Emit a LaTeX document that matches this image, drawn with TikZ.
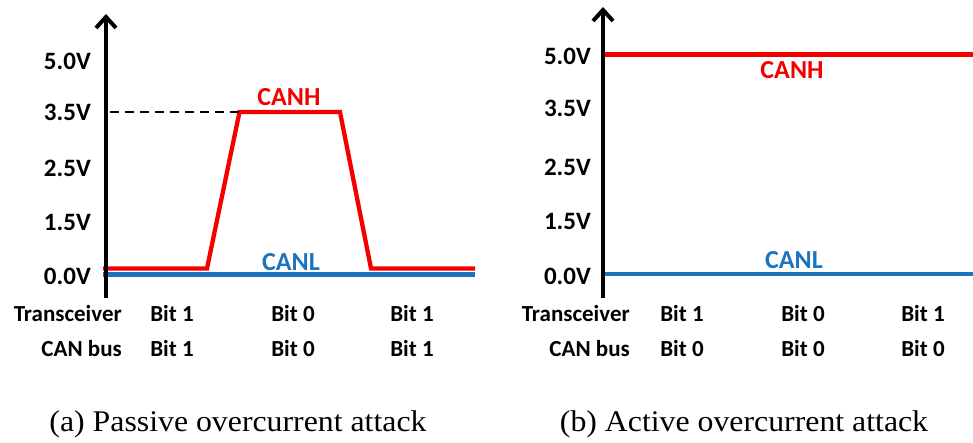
\documentclass[tikz,border=0pt]{standalone}
\usepackage{fontspec}
\setmainfont{Carlito}
\newfontfamily\capfont[FakeStretch=1.06]{Liberation Serif}
\usetikzlibrary{arrows.meta}
\definecolor{canred}{RGB}{245,0,0}
\definecolor{canblue}{RGB}{28,116,192}
\tikzset{
  axisline/.style={line width=4pt, -{Straight Barb[length=11pt,width=20pt,line width=4pt]}},
  hwave/.style={canred, line width=4.3pt, line join=miter},
  lwave/.style={canblue, line width=4.3pt},
  guide/.style={black, line width=2pt, dash pattern=on 9pt off 6pt},
  vlabel/.style={anchor=east, inner sep=0pt, font=\fontsize{25}{28}\selectfont\bfseries},
  siglabel/.style={inner sep=0pt, font=\fontsize{26}{29}\selectfont\bfseries},
  bitlabel/.style={inner sep=0pt, font=\fontsize{23}{26}\selectfont\bfseries},
  rowlabel/.style={bitlabel, anchor=east},
  caption/.style={inner sep=0pt, font=\capfont\fontsize{30}{33}\selectfont}
}
\begin{document}
\begin{tikzpicture}[x=1pt, y=-1pt]
\useasboundingbox (0,0) rectangle (973,443);

% ---------- (a) passive overcurrent attack ----------
\coordinate (a0) at (106,298);
\coordinate (a1) at (106,14);
\node[vlabel] (a50) at (91,61)  {5.0V};
\node[vlabel] (a35) at (91,112) {3.5V};
\node[vlabel] (a25) at (91,168) {2.5V};
\node[vlabel] (a15) at (91,222) {1.5V};
\node[vlabel] (a00) at (91,276) {0.0V};

% CANL stays at 0 V
\coordinate (aLs) at (103,274.5);
\coordinate (aLe) at (475,274.5);
\draw[lwave] (aLs) -- (aLe);

% CANH trapezoid
\coordinate (aH0) at (103,268.5);
\coordinate (aH1) at (207,268.5);
\coordinate (aH2) at (239.5,112);
\coordinate (aH3) at (340,112);
\coordinate (aH4) at (371,268.5);
\coordinate (aH5) at (475,268.5);
\draw[hwave] (aH0) -- (aH1) -- (aH2) -- (aH3) -- (aH4) -- (aH5);

% 3.5 V reference
\coordinate (aD0) at (110,112);
\draw[guide] (aD0) -- (aH2);

\draw[axisline] (a0) -- (a1);

\node[siglabel, text=canred]  (aCANH) at (289,97)  {CANH};
\node[siglabel, text=canblue] (aCANL) at (291,262) {CANL};

\node[rowlabel] (aTr)  at (122,314) {Transceiver};
\node[rowlabel] (aBus) at (122,349) {CAN bus};
\node[bitlabel] (aT1) at (172,314) {Bit 1};
\node[bitlabel] (aT2) at (293,314) {Bit 0};
\node[bitlabel] (aT3) at (412,314) {Bit 1};
\node[bitlabel] (aB1) at (172,349) {Bit 1};
\node[bitlabel] (aB2) at (293,349) {Bit 0};
\node[bitlabel] (aB3) at (412,349) {Bit 1};

\node[caption] (capA) at (238,424) {(a) Passive overcurrent attack};

% ---------- (b) active overcurrent attack ----------
\coordinate (b0) at (603,298);
\coordinate (b1) at (603,7);
\node[vlabel] (b50) at (591,56)  {5.0V};
\node[vlabel] (b35) at (591,108) {3.5V};
\node[vlabel] (b25) at (591,167) {2.5V};
\node[vlabel] (b15) at (591,221) {1.5V};
\node[vlabel] (b00) at (591,276) {0.0V};

\coordinate (bHs) at (603,54.5);
\coordinate (bHe) at (973,54.5);
\draw[hwave] (bHs) -- (bHe);
\coordinate (bLs) at (603,274);
\coordinate (bLe) at (973,274);
\draw[lwave] (bLs) -- (bLe);

\draw[axisline] (b0) -- (b1);

\node[siglabel, text=canred]  (bCANH) at (792,70)  {CANH};
\node[siglabel, text=canblue] (bCANL) at (794,260) {CANL};

\node[rowlabel] (bTr)  at (630,314) {Transceiver};
\node[rowlabel] (bBus) at (630,349) {CAN bus};
\node[bitlabel] (bT1) at (682,314) {Bit 1};
\node[bitlabel] (bT2) at (803,314) {Bit 0};
\node[bitlabel] (bT3) at (923,314) {Bit 1};
\node[bitlabel] (bB1) at (682,349) {Bit 0};
\node[bitlabel] (bB2) at (803,349) {Bit 0};
\node[bitlabel] (bB3) at (923,349) {Bit 0};

\node[caption] (capB) at (744,424) {(b) Active overcurrent attack};
\end{tikzpicture}
\end{document}
